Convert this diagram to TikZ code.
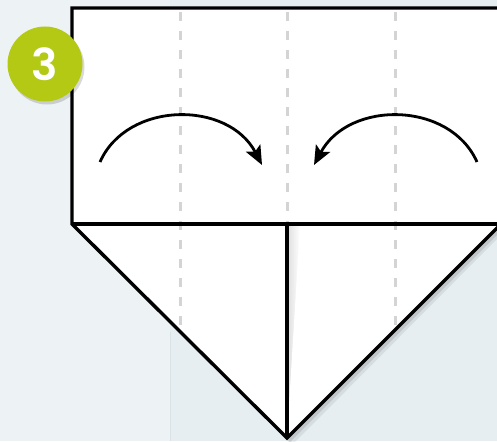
\documentclass[tikz,border=0pt]{standalone}
\usepackage{fontspec}
\newfontfamily\badgefont{Poppins}[UprightFont=* SemiBold]
\usetikzlibrary{arrows.meta}
\definecolor{bgcol}{HTML}{E7EEF2}
\definecolor{badgegreen}{HTML}{B3C913}
\definecolor{foldgray}{HTML}{D4D4D4}
\tikzset{
  paperedge/.style={line width=3.4pt, line join=miter, black},
  foldline/.style={line width=3pt, foldgray, dash pattern=on 9pt off 10pt},
  foldarrow/.style={line width=2.8pt, -{Stealth[length=19pt,width=16pt,inset=4pt]}},
}
\begin{document}
\begin{tikzpicture}[x=1pt,y=-1pt]
\useasboundingbox (0,0) rectangle (497,441);
% background
\fill[bgcol] (0,0) rectangle (497,441);
\fill[white, opacity=0.25] (0,0) rectangle (170,441);
\draw[line width=1pt, color=black!5!bgcol] (170,332) -- (170,441);
% paper shadow
\fill[black, opacity=0.10] (74,12) -- (500,12) -- (500,232) -- (290,442) -- (74,228) -- cycle;
\fill[black, opacity=0.07] (76,14) -- (502,14) -- (502,234) -- (292,445) -- (76,230) -- cycle;
% paper
\fill[white] (72,8) -- (500,8) -- (500,225) -- (287,438) -- (72,224) -- cycle;
% slight shade right of the centre line
\shade[left color=black!12, right color=white] (288,225) rectangle (300,425);
\fill[white] (300,225) -- (300,425) -- (287,438) -- cycle;
% fold guides
\draw[foldline] (180,12) -- (180,330);
\draw[foldline] (287,12) -- (287,222);
\draw[foldline] (395,12) -- (395,330);
% outlines
\draw[paperedge] (500,8) -- (72,8) -- (72,224) -- (287,438) -- (500,225);
\draw[paperedge] (72,224) -- (500,224);
\draw[paperedge] (287,224) -- (287,438);
% arrows
\coordinate (la) at (100,162);
\coordinate (lb) at (262,165);
\coordinate (ra) at (477,162);
\coordinate (rb) at (314,165);
\draw[foldarrow] (la) .. controls (127,101) and (228,100) .. (lb);
\draw[foldarrow] (ra) .. controls (450,101) and (349,100) .. (rb);
% badge
\fill[black, opacity=0.15] (47,67) circle (37.5);
\node[circle, fill=badgegreen, minimum size=75pt, inner sep=0pt,
      text=white, font=\badgefont\fontsize{44}{44}\selectfont] (badge) at (45,64) {3};
\end{tikzpicture}
\end{document}
